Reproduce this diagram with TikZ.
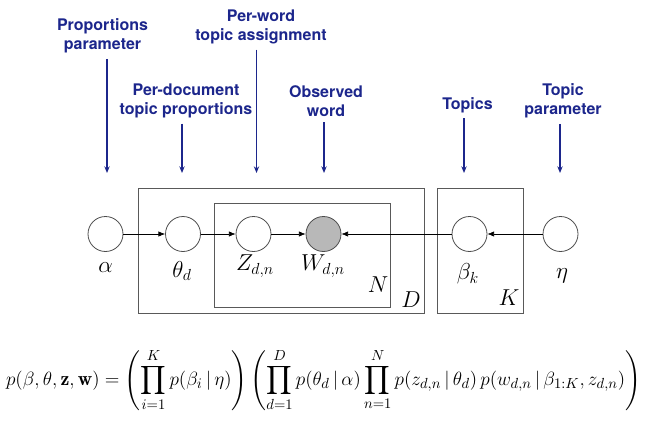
\documentclass[tikz,border=0pt]{standalone}
\usepackage{amsmath, amssymb}
\usepackage{fontspec}
\newfontfamily\annotfont{TeX Gyre Heros}
\usepackage{xcolor}
\usetikzlibrary{arrows.meta, positioning}
\definecolor{annotblue}{RGB}{28,38,140}

\begin{document}
\begin{tikzpicture}[x=0.75pt, y=-0.75pt,
    latent/.style={circle, draw=black!70, line width=0.6pt, minimum size=26.25pt, inner sep=0pt},
    observed/.style={latent, fill=black!28},
    plate/.style={draw=black!65, line width=0.7pt},
    edge/.style={-{Latex[length=5pt,width=4pt]}, line width=0.5pt},
    annot/.style={font=\annotfont\bfseries\fontsize{12}{14.3}\selectfont, text=annotblue, align=center, inner sep=1pt},
    pointer/.style={-{Stealth[length=5pt,width=4pt]}, draw=annotblue, line width=1.1pt, shorten <=3pt},
    var/.style={font=\fontsize{17}{20}\selectfont, inner sep=0pt}]
        \useasboundingbox (0,0) rectangle (661,446);
        % plates
        \draw[plate] (138,188) rectangle (424,313);
        \draw[plate] (214,203) rectangle (390,307);
        \draw[plate] (437,188) rectangle (523,313);
        \node[var] at (378,285) {$N$};
        \node[var] at (411,300) {$D$};
        \node[var] at (509,298) {$K$};
        % variables
        \node[latent] (alpha) at (105.5,234) {};
        \node[latent] (theta) at (183,234) {};
        \node[latent] (z) at (253.5,234) {};
        \node[observed] (w) at (323.5,234) {};
        \node[latent] (beta) at (469.5,234) {};
        \node[latent] (eta) at (560.5,234) {};
        \node[var] (lalpha) at (105.5,268) {$\alpha$};
        \node[var] (ltheta) at (182,271) {$\theta_d$};
        \node[var] (lz) at (255,266) {$Z_{d,n}$};
        \node[var] (lw) at (323,266) {$W_{d,n}$};
        \node[var] (lbeta) at (468,274) {$\beta_k$};
        \node[var] (leta) at (562,276) {$\eta$};
        \draw[edge] (alpha) -- (theta);
        \draw[edge] (theta) -- (z);
        \draw[edge] (z) -- (w);
        \draw[edge] (beta) -- (w);
        \draw[edge] (eta) -- (beta);
        % annotations
        \node[annot] (aprop) at (102.5,36) {Proportions\\parameter};
        \node[annot] (aword) at (261,27) {Per-word\\topic assignment};
        \node[annot] (adoc) at (186,101) {Per-document\\topic proportions};
        \node[annot] (aobs) at (326,101) {Observed\\word};
        \node[annot] (atopics) at (467.5,105) {Topics};
        \node[annot] (atopicpar) at (563,101) {Topic\\parameter};
        \coordinate (talpha) at (107,173);
        \coordinate (ttheta) at (182,173);
        \coordinate (tz) at (256.5,173);
        \coordinate (tw) at (324,173);
        \coordinate (tbeta) at (464,173);
        \coordinate (teta) at (560,173);
        \draw[pointer] (talpha |- aprop.south) -- (talpha);
        \draw[pointer] (ttheta |- adoc.south) -- (ttheta);
        \draw[pointer] (tz |- aword.south) -- (tz);
        \draw[pointer] (tw |- aobs.south) -- (tw);
        \draw[pointer] (tbeta |- atopics.south) -- (tbeta);
        \draw[pointer] (teta |- atopicpar.south) -- (teta);
        % joint distribution
        \node[font=\fontsize{15}{18}\selectfont, inner sep=0pt] (joint) at (323.5,380)
          {$\displaystyle p(\beta,\theta,\mathbf{z},\mathbf{w}) = \left(\prod_{i=1}^{K} p(\beta_i\,|\,\eta)\right)\left(\prod_{d=1}^{D} p(\theta_d\,|\,\alpha)\prod_{n=1}^{N} p(z_{d,n}\,|\,\theta_d)\,p(w_{d,n}\,|\,\beta_{1:K},z_{d,n})\right)$};
      \end{tikzpicture}
\end{document}
